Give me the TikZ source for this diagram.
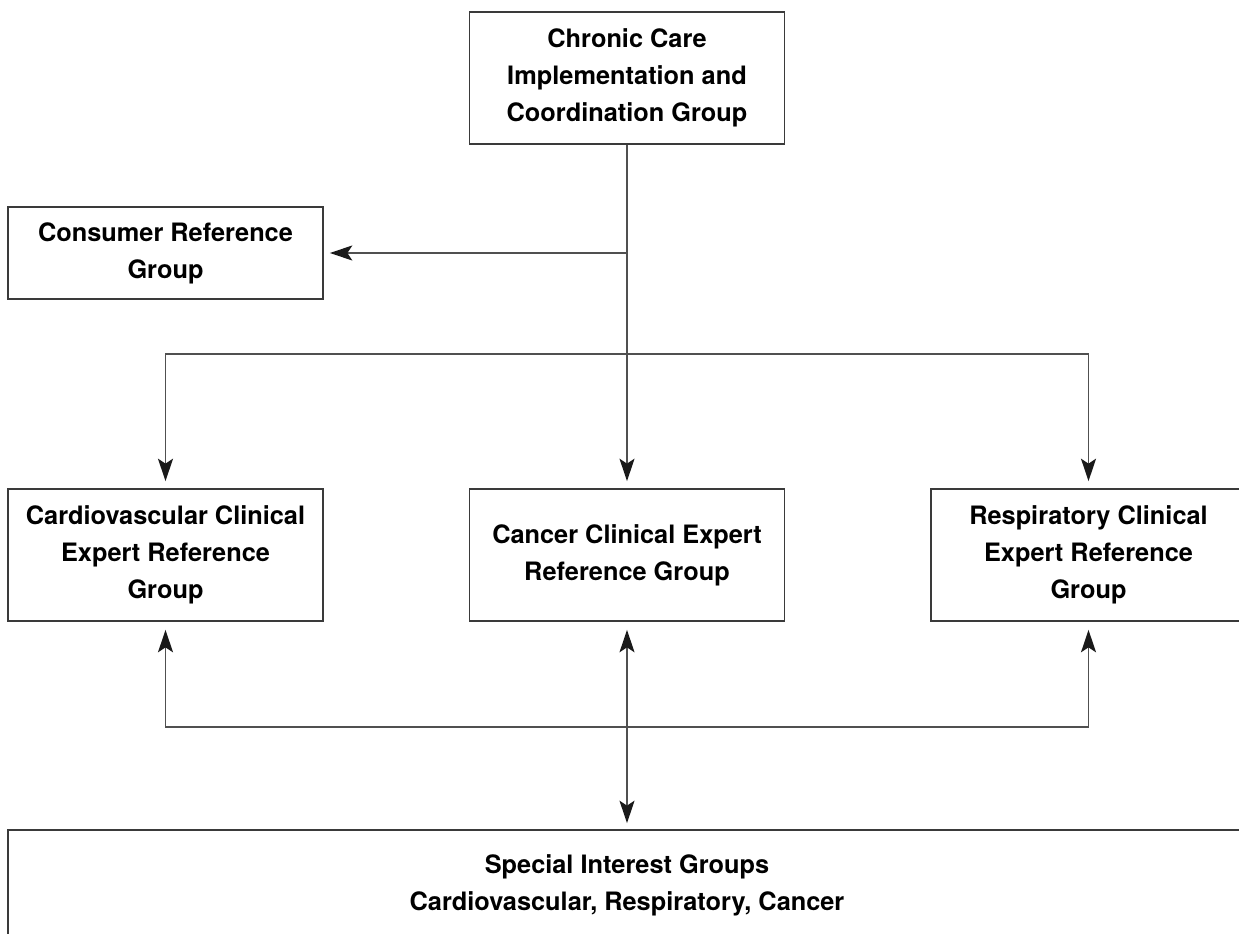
\documentclass[tikz,border=0pt]{standalone}
\usepackage{fontspec}
\setmainfont{TeX Gyre Heros}
\usepackage{tikz}
\usetikzlibrary{arrows.meta,positioning,calc}
\definecolor{traitG}{HTML}{505050}
\definecolor{cadreG}{HTML}{3A3A3A}
\definecolor{pointeN}{HTML}{1A1A1A}
\tikzset{
  grp/.style={rectangle, draw=cadreG, line width=1pt, align=center,
              font=\fontsize{15.2pt}{22.2pt}\selectfont\bfseries,
              minimum width=189pt, minimum height=#1, inner sep=0pt},
  grp/.default=79.2pt,
  lien/.style={line width=1pt, draw=traitG},
  arr/.style={lien, -{Stealth[length=13.5pt, width=9pt, inset=3pt, color=pointeN]}},
  arr2/.style={lien, {Stealth[length=13.5pt, width=9pt, inset=3pt, color=pointeN]}-{Stealth[length=13.5pt, width=9pt, inset=3pt, color=pointeN]}},
}
\begin{document}
\begin{tikzpicture}[x=0.6pt, y=-0.6pt]
        \clip (0,0) rectangle (1239,934);
        \fill[white] (0,0) rectangle (1239,934);
        % groupes
        \node[grp] (ccig) at (627,78) {Chronic Care\\Implementation and\\Coordination Group};
        \node[grp=55.2pt] (conso) at (165.5,253) {Consumer Reference\\Group};
        \node[grp] (cardio) at (165.5,555) {Cardiovascular Clinical\\Expert Reference\\Group};
        \node[grp] (cancer) at (627,555) {Cancer Clinical Expert\\Reference Group};
        \node[grp] (respi) at (1088.5,555) {Respiratory Clinical\\Expert Reference\\Group};
        \node[grp=66pt, minimum width=742.8pt] (sig) at (627,885) {Special Interest Groups\\Cardiovascular, Respiratory, Cancer};
        % points de jonction
        \coordinate (jc) at (ccig.south |- conso.east);
        \coordinate (jh) at (ccig.south |- 0,354);
        \coordinate (jb) at (cancer.south |- 0,727);
        % liens
        \draw[lien] (ccig.south) -- (jh);
        \draw[arr, shorten >=3.6pt] (jc) -- (conso.east);
        \draw[arr, shorten >=4.2pt] (jh) -- (cancer.north);
        \draw[arr, shorten >=4.2pt] (jh) -| (cardio.north);
        \draw[arr, shorten >=4.2pt] (jh) -| (respi.north);
        \draw[arr2, shorten <=4.8pt, shorten >=3.6pt] (cancer.south) -- (sig.north);
        \draw[arr, shorten >=4.8pt] (jb) -| (cardio.south);
        \draw[arr, shorten >=4.8pt] (jb) -| (respi.south);
      \end{tikzpicture}
\end{document}
